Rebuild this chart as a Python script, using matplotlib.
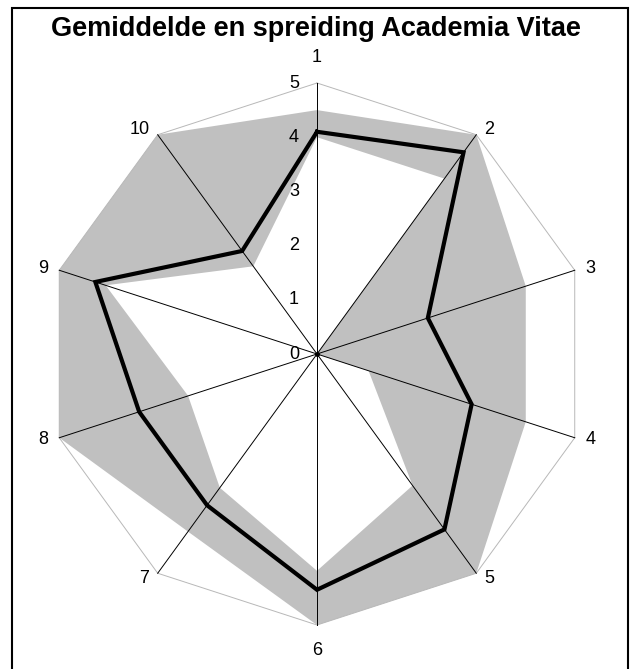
import numpy as np
import matplotlib
matplotlib.use("Agg")
import matplotlib.pyplot as plt
from matplotlib.patches import Rectangle

plt.rcParams['font.family'] = ['Liberation Sans', 'DejaVu Sans']

# data
labels = ['1', '2', '3', '4', '5', '6', '7', '8', '9', '10']
mean = [4.1, 4.6, 2.15, 3.0, 4.0, 4.35, 3.45, 3.45, 4.3, 2.35]
upper = [4.5, 5.0, 4.05, 4.05, 5.0, 5.0, 4.05, 5.0, 5.0, 5.0]
lower = [4.0, 4.0, 0.0, 1.0, 3.0, 4.0, 3.05, 2.5, 4.1, 2.0]
ticks = [0, 1, 2, 3, 4, 5]
rmax = 5

n = len(labels)
ang = np.deg2rad(90 - 360.0 / n * np.arange(n))


def to_xy(vals):
    """Radar values -> cartesian, closed polygon."""
    v = np.asarray(vals, dtype=float)
    x = v * np.cos(ang)
    y = v * np.sin(ang)
    return np.append(x, x[0]), np.append(y, y[0])


fig = plt.figure(figsize=(6.31, 6.69), dpi=100)
ax = fig.add_axes([0, 0, 1, 1])
scale = 54.2  # px per unit
cx, cy = 317, 354
ax.set_xlim(-cx / scale, (631 - cx) / scale)
ax.set_ylim((cy - 669) / scale, cy / scale)
ax.axis('off')

# band: upper polygon gray, lower polygon white
ux, uy = to_xy(upper)
ax.fill(ux, uy, color='#c0c0c0', lw=0, zorder=1)
lx, ly = to_xy(lower)
ax.fill(lx, ly, color='white', lw=0, zorder=2)

# outer decagon and spokes
ox, oy = to_xy([rmax] * n)
ax.plot(ox, oy, color='#b8b8b8', lw=0.7, zorder=3)
for a in ang:
    ax.plot([0, rmax * np.cos(a)], [0, rmax * np.sin(a)], color='black', lw=0.7, zorder=3)
ax.plot([0], [0], 'o', color='black', ms=2.5, zorder=4)

# mean line
mx, my = to_xy(mean)
ax.plot(mx, my, color='black', lw=3, solid_joinstyle='miter', zorder=5)

# radial tick labels along axis 1
for t in ticks:
    ax.annotate(str(t), (0, t), xytext=(-13, 0), textcoords='offset points',
                ha='right', va='center', fontsize=13)

# category labels
for lab, a in zip(labels, ang):
    c, s = np.cos(a), np.sin(a)
    if abs(c) < 0.1:
        ha = 'center'
        va = 'bottom' if s > 0 else 'top'
        off = (0, 12 if s > 0 else -12)
    else:
        ha = 'left' if c > 0 else 'right'
        va = 'center'
        off = (np.sign(c) * (3 + 5 * abs(c)), 4.5 * s)
    ax.annotate(lab, (rmax * c, rmax * s), xytext=off, textcoords='offset points',
                ha=ha, va=va, fontsize=13)

fig.text(316 / 631, 1 - 29 / 669, 'Gemiddelde en spreiding Academia Vitae',
         ha='center', va='center', fontsize=19.5, fontweight='bold')

fig.patches.append(Rectangle((11.5 / 631, -0.1), (628 - 11.5) / 631, 1.1 - 8.5 / 669,
                             transform=fig.transFigure, fill=False, ec='black',
                             lw=1.5, clip_on=False))

fig.savefig('out.png', dpi=100)
